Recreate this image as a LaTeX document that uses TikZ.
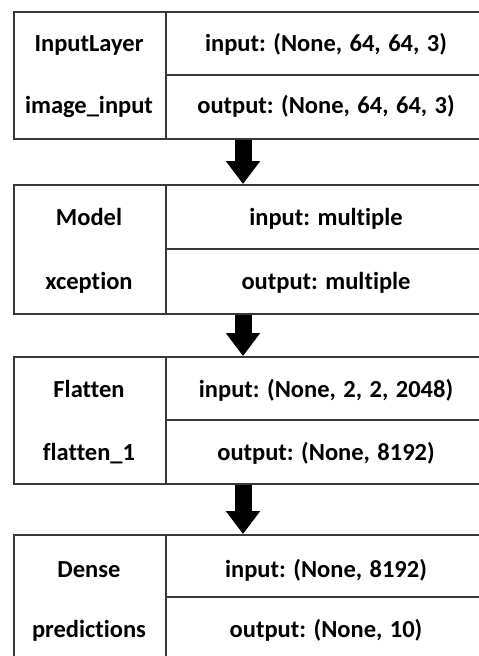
\documentclass[tikz,border=0pt]{standalone}
\usepackage{fontspec}
\setmainfont[Ligatures=NoCommon,WordSpace=1.35]{Carlito}
\usetikzlibrary{arrows.meta}
\definecolor{linegray}{HTML}{383838}
\frenchspacing
\begin{document}
\begin{tikzpicture}[x=1pt,y=-1pt,
  layerbox/.style={draw=linegray, line width=2pt, rectangle, inner sep=0pt, anchor=north west, minimum width=470pt},
  lbl/.style={font=\fontsize{24.5}{28}\selectfont\bfseries, inner sep=0pt, anchor=base},
  divline/.style={draw=linegray, line width=2pt},
  flow/.style={line width=17pt, -{Triangle[width=33pt,length=23pt]}, black}
]
\useasboundingbox (0,0) rectangle (479,656);
\coordinate (ax) at (243,0);
\coordinate (cx) at (166,0);
% layer boxes
\node[layerbox, minimum height=127pt] (L1) at (12.5,11) {};
\node[layerbox, minimum height=129pt] (L2) at (12.5,184) {};
\node[layerbox, minimum height=127pt] (L3) at (12.5,356) {};
\node[layerbox, minimum height=127pt] (L4) at (12.5,534) {};
% dividers
\foreach \L/\m in {L1/75, L2/249, L3/420, L4/597}{
  \draw[divline] (\L.north -| cx) -- (\L.south -| cx);
  \draw[divline] (166,\m) -- (\L.east |- 0,\m);
}
% texts
\node[lbl] (n1) at (89,51) {InputLayer};
\node[lbl] (t1) at (89,113) {image\_input};
\node[lbl] (i1) at (326,51) {input: (None, 64, 64, 3)};
\node[lbl] (o1) at (326,113) {output: (None, 64, 64, 3)};
\node[lbl] (n2) at (89,225) {Model};
\node[lbl] (t2) at (89,289) {xception};
\node[lbl] (i2) at (326,225) {input: multiple};
\node[lbl] (o2) at (326,289) {output: multiple};
\node[lbl] (n3) at (89,397) {Flatten};
\node[lbl] (t3) at (89,460) {flatten\_1};
\node[lbl] (i3) at (326,397) {input: (None, 2, 2, 2048)};
\node[lbl] (o3) at (326,460) {output: (None, 8192)};
\node[lbl] (n4) at (89,577) {Dense};
\node[lbl] (t4) at (89,637) {predictions};
\node[lbl] (i4) at (326,577) {input: (None, 8192)};
\node[lbl] (o4) at (326,637) {output: (None, 10)};
% arrows
\draw[flow] (L1.south -| ax) -- (L2.north -| ax);
\draw[flow] (L2.south -| ax) -- (L3.north -| ax);
\draw[flow] (L3.south -| ax) -- (L4.north -| ax);
\end{tikzpicture}
\end{document}
